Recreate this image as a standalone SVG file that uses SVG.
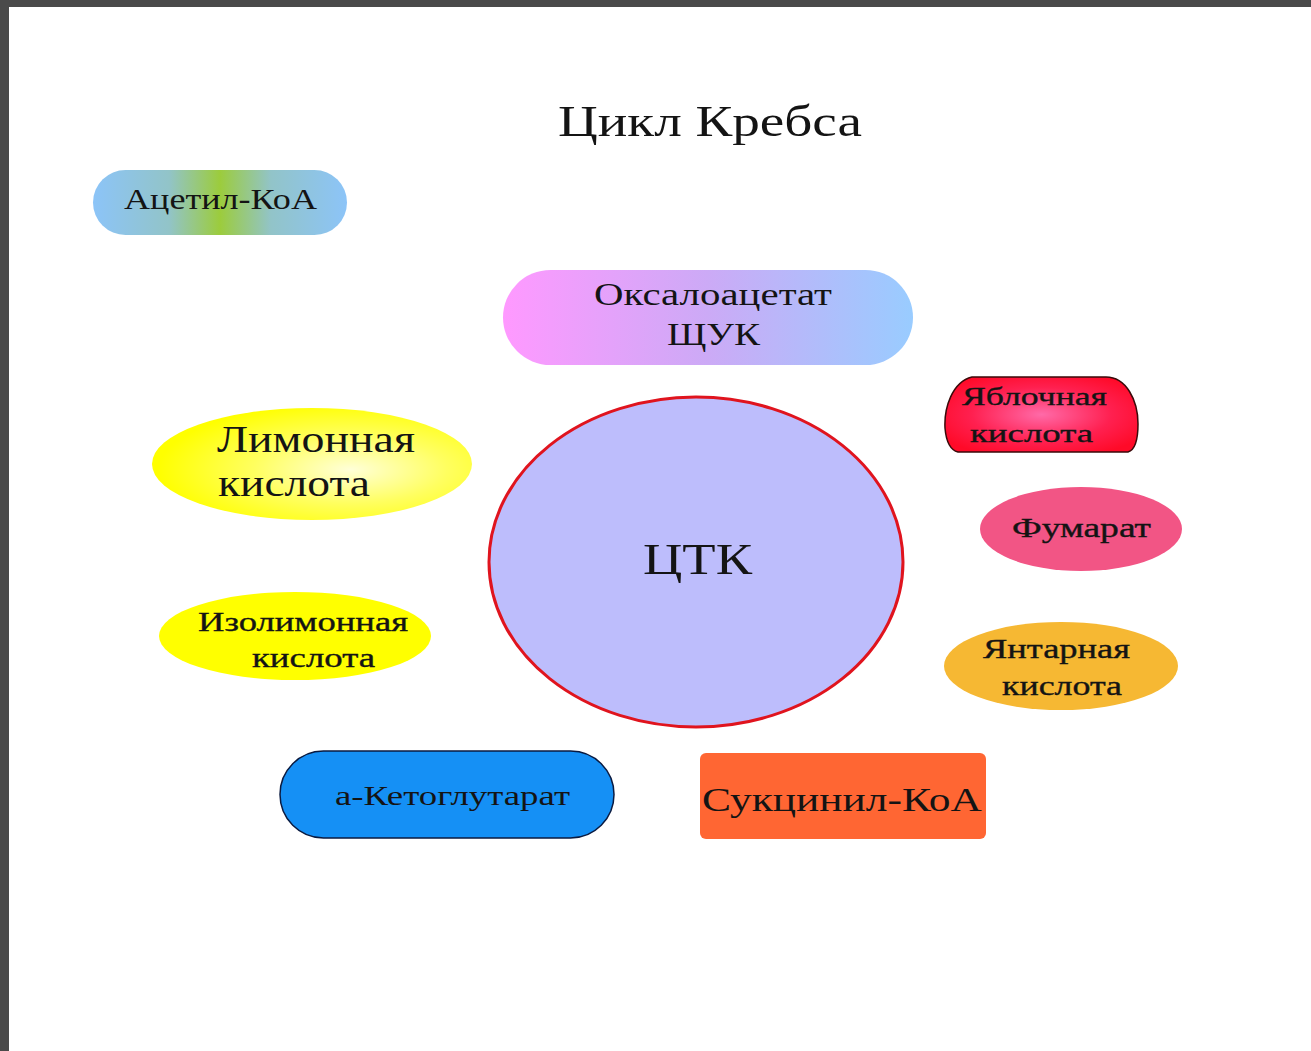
<svg xmlns="http://www.w3.org/2000/svg" width="1311" height="1051" viewBox="0 0 1311 1051">
<style>
text{font-family:"Liberation Serif","Times New Roman",serif;fill:#141414}
.b{stroke:#141414;stroke-width:0.35}
</style>
<defs>
<linearGradient id="gAcetyl" x1="0" y1="0" x2="1" y2="0">
<stop offset="0" stop-color="#8cc4f8"/><stop offset="0.3" stop-color="#92c4c8"/><stop offset="0.5" stop-color="#9ccc3c"/><stop offset="0.7" stop-color="#92c4c8"/><stop offset="1" stop-color="#8cc4f8"/>
</linearGradient>
<linearGradient id="gOxalo" x1="0" y1="0" x2="1" y2="0">
<stop offset="0" stop-color="#ff99ff"/><stop offset="0.5" stop-color="#ccaaf6"/><stop offset="1" stop-color="#99ccff"/>
</linearGradient>
<radialGradient id="gLimon" cx="0.62" cy="0.55" r="0.6">
<stop offset="0" stop-color="#ffffd8"/><stop offset="0.5" stop-color="#ffff60"/><stop offset="1" stop-color="#ffff00"/>
</radialGradient>
<radialGradient id="gMalic" cx="0.5" cy="0.5" r="0.6">
<stop offset="0" stop-color="#ff6aa8"/><stop offset="0.6" stop-color="#ff2050"/><stop offset="1" stop-color="#ff0a28"/>
</radialGradient>
</defs>
<rect x="0" y="0" width="1311" height="1051" fill="#ffffff"/>
<rect x="0" y="0" width="1311" height="7" fill="#4a4a4a"/>
<rect x="0" y="0" width="9" height="1051" fill="#4a4a4a"/>
<text x="558" y="136" font-size="45" textLength="304" lengthAdjust="spacingAndGlyphs">Цикл Кребса</text>
<g id="connectors"></g>
<g id="acetyl">
<rect x="93" y="170" width="254" height="65" rx="32.5" fill="url(#gAcetyl)"/>
<text x="124" y="209" font-size="30" textLength="193" lengthAdjust="spacingAndGlyphs">Ацетил-КоА</text>
</g>
<g id="oxaloacetate">
<rect x="503" y="270" width="410" height="95" rx="47.5" fill="url(#gOxalo)"/>
<text x="594" y="305" font-size="31" textLength="238" lengthAdjust="spacingAndGlyphs">Оксалоацетат</text>
<text x="667" y="345" font-size="31" textLength="93" lengthAdjust="spacingAndGlyphs">ЩУК</text>
</g>
<g id="ctk">
<ellipse cx="696" cy="562" rx="207" ry="165" fill="#bdbdfc" stroke="#e0141e" stroke-width="3"/>
<text x="643" y="574" font-size="45" textLength="109" lengthAdjust="spacingAndGlyphs">ЦТК</text>
</g>
<g id="malic">
<path d="M972,377 H1106 C1126,377 1138,400 1138,424 C1138,440 1135,450 1128,452 H958 C950,450 946,440 945,428 C944,408 952,382 972,377 Z" fill="url(#gMalic)" stroke="#3a0a0a" stroke-width="1.5"/>
<text class="b" x="962" y="405" font-size="26" textLength="145" lengthAdjust="spacingAndGlyphs">Яблочная</text>
<text class="b" x="970" y="442" font-size="26" textLength="123" lengthAdjust="spacingAndGlyphs">кислота</text>
</g>
<g id="fumarate">
<ellipse cx="1081" cy="529" rx="101" ry="42" fill="#f25585"/>
<text class="b" x="1012" y="537" font-size="27" textLength="139" lengthAdjust="spacingAndGlyphs">Фумарат</text>
</g>
<g id="succinic">
<ellipse cx="1061" cy="666" rx="117" ry="44" fill="#f6b833"/>
<text class="b" x="983" y="658" font-size="27" textLength="147" lengthAdjust="spacingAndGlyphs">Янтарная</text>
<text class="b" x="1002" y="695" font-size="27" textLength="120" lengthAdjust="spacingAndGlyphs">кислота</text>
</g>
<g id="citric">
<ellipse cx="312" cy="464" rx="160" ry="56" fill="url(#gLimon)"/>
<text x="217" y="452" font-size="37" textLength="198" lengthAdjust="spacingAndGlyphs">Лимонная</text>
<text x="218" y="496" font-size="37" textLength="152" lengthAdjust="spacingAndGlyphs">кислота</text>
</g>
<g id="isocitric">
<ellipse cx="295" cy="636" rx="136" ry="44" fill="#ffff00"/>
<text class="b" x="198" y="631" font-size="28" textLength="210" lengthAdjust="spacingAndGlyphs">Изолимонная</text>
<text class="b" x="252" y="667" font-size="28" textLength="123" lengthAdjust="spacingAndGlyphs">кислота</text>
</g>
<g id="ketoglutarate">
<rect x="280" y="751" width="334" height="87" rx="43.5" fill="#1590f5" stroke="#0a1a40" stroke-width="1.5"/>
<text x="335" y="805" font-size="28" textLength="235" lengthAdjust="spacingAndGlyphs">а-Кетоглутарат</text>
</g>
<g id="succinylcoa">
<rect x="700" y="753" width="286" height="86" rx="6" fill="#ff6633"/>
<text x="702" y="811" font-size="34" textLength="280" lengthAdjust="spacingAndGlyphs">Сукцинил-КоА</text>
</g>
</svg>
